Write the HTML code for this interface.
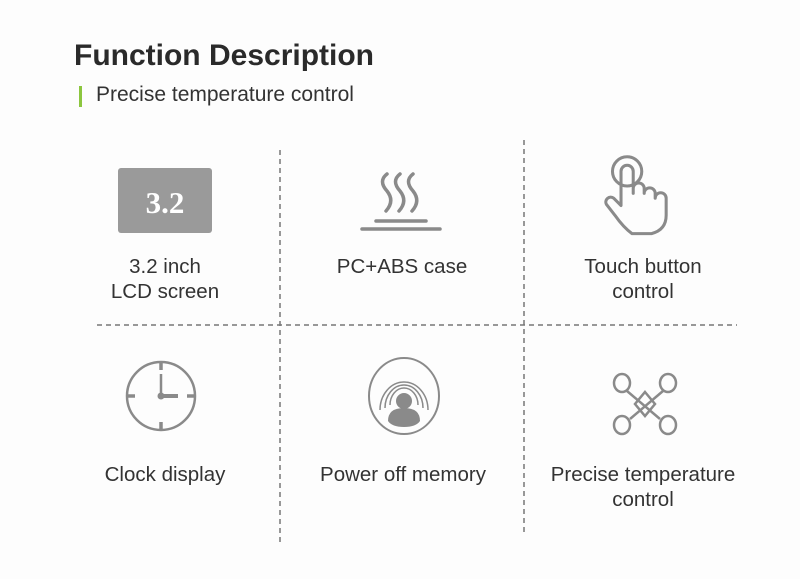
<!DOCTYPE html>
<html><head><meta charset="utf-8"><style>
html,body{margin:0;padding:0;width:800px;height:579px;overflow:hidden;background:#fdfdfd;}
body{position:relative;font-family:"Liberation Sans",sans-serif;color:#333;}
.t{position:absolute;white-space:nowrap;}
.lbl{position:absolute;width:260px;text-align:center;font-size:20.5px;line-height:25px;color:#333;}
</style></head><body>
<div class="t" style="left:74px;top:39px;font-size:30px;font-weight:bold;color:#2a2a2a;">Function Description</div>
<div style="position:absolute;left:79px;top:86px;width:3px;height:21px;background:#8cc63f;"></div>
<div class="t" style="left:96px;top:83px;font-size:21px;color:#333;">Precise temperature control</div>

<svg width="800" height="579" style="position:absolute;left:0;top:0" xmlns="http://www.w3.org/2000/svg">
<g stroke="#777" stroke-width="1.5" stroke-dasharray="5,4" fill="none">
<line x1="280" y1="150" x2="280" y2="545"/>
<line x1="524" y1="140" x2="524" y2="532"/>
<line x1="97" y1="325" x2="737" y2="325"/>
</g>
<rect x="118" y="168" width="94" height="65" rx="3" fill="#9a9a9a"/>
<text x="165" y="213" text-anchor="middle" font-family="Liberation Serif,serif" font-weight="bold" font-size="31" fill="#fff">3.2</text>
<g stroke="#8a8a8a" stroke-width="3.5" fill="none" stroke-linecap="round">
<path d="M387 174 q-9 7 0 17 q8 10 -1 20"/>
<path d="M400 174 q-9 7 0 17 q8 10 -1 20"/>
<path d="M413 174 q-9 7 0 17 q8 10 -1 20"/>
<line x1="376" y1="221" x2="426" y2="221"/>
<line x1="362" y1="229" x2="440" y2="229"/>
</g>
<g stroke="#8a8a8a" stroke-width="2.5" fill="none" stroke-linejoin="round" stroke-linecap="round" transform="translate(632 197) scale(1.22) translate(-632 -197)">
<circle cx="628" cy="176" r="12"/>
<path d="M623 200 v-24 a5 5 0 0 1 10 0 v18 v-4 a4.5 4.5 0 0 1 9 0 v4 a4.5 4.5 0 0 1 9 0 v4 a4.5 4.5 0 0 1 9 0 v14 q0 12 -12 15 h-16 q-7 -5 -14 -15 l-7 -9 a4 4 0 0 1 6 -5 l6 6 z"/>
</g>
<g stroke="#8a8a8a" fill="none">
<circle cx="161" cy="396" r="34" stroke-width="2.5"/>
<g stroke-width="3.5"><line x1="161" y1="363" x2="161" y2="370"/><line x1="161" y1="422" x2="161" y2="429"/><line x1="128" y1="396" x2="135" y2="396"/><line x1="187" y1="396" x2="194" y2="396"/></g>
<line x1="161" y1="396" x2="161" y2="374" stroke-width="2.5"/>
<line x1="161" y1="396" x2="178" y2="396" stroke-width="4"/>
</g>
<circle cx="161" cy="396" r="3.5" fill="#8a8a8a"/>
<g stroke="#8a8a8a" fill="none">
<ellipse cx="404" cy="396" rx="35" ry="38" stroke-width="2"/>
<path d="M390 405 a14 17 0 0 1 28 0" stroke-width="1.5"/>
<path d="M385 408 a19 23 0 0 1 38 0" stroke-width="1.5"/>
<path d="M380 410 a24 28 0 0 1 48 0" stroke-width="1.5"/>
</g>
<circle cx="404" cy="401" r="8" fill="#8a8a8a"/>
<path d="M388 421 q0 -13 16 -13 q16 0 16 13 q-4 6 -16 6 q-12 0 -16 -6z" fill="#8a8a8a"/>
<g stroke="#8a8a8a" stroke-width="2.5" fill="none">
<ellipse cx="622" cy="383" rx="8" ry="9"/><ellipse cx="668" cy="383" rx="8" ry="9"/>
<ellipse cx="622" cy="425" rx="8" ry="9"/><ellipse cx="668" cy="425" rx="8" ry="9"/>
<line x1="627" y1="391" x2="660" y2="419"/><line x1="663" y1="391" x2="630" y2="419"/>
<path d="M645 392 l10 12 l-10 12 l-10 -12z"/>
</g>
</svg>

<div class="lbl" style="left:35px;top:254px;">3.2 inch<br>LCD screen</div>
<div class="lbl" style="left:272px;top:254px;">PC+ABS case</div>
<div class="lbl" style="left:513px;top:254px;">Touch button<br>control</div>
<div class="lbl" style="left:35px;top:462px;">Clock display</div>
<div class="lbl" style="left:273px;top:462px;">Power off memory</div>
<div class="lbl" style="left:513px;top:462px;">Precise temperature<br>control</div>
</body></html>
